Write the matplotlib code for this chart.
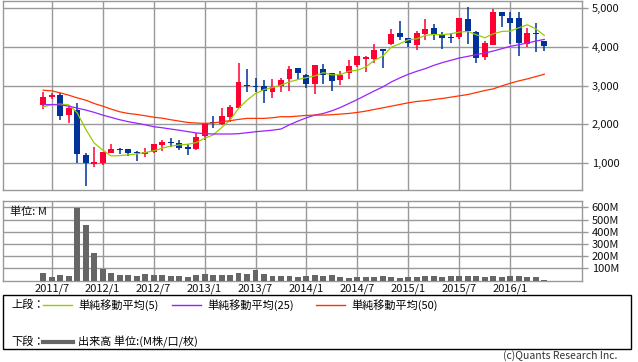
import matplotlib
matplotlib.use("Agg")
from matplotlib import pyplot as plt
from matplotlib.patches import Rectangle
from matplotlib.lines import Line2D

plt.rcParams['font.family'] = ['Noto Sans CJK JP', 'DejaVu Sans']

# monthly candles 2011/6 .. 2016/5 (x = months since 2011/1)
start_month = 5
opens = [2496, 2694, 2761, 2240, 2368, 1213, 982, 1000, 1272, 1368, 1359, 1282,
         1239, 1291, 1470, 1547, 1513, 1419, 1368, 1709, 2060, 2009, 2197, 2427,
         3026, 2991, 2991, 2838, 3000, 3171, 3461, 3282, 3051, 3436, 3316, 3137,
         3325, 3521, 3684, 3675, 3932, 4077, 4359, 4231, 4034, 4333, 4487, 4333,
         4248, 4248, 4718, 4368, 3735, 4043, 4906, 4735, 4735, 4077, 4350, 4137]
highs = [2823, 2796, 2796, 2479, 2540, 1260, 1411, 1299, 1488, 1400, 1368, 1325,
         1402, 1500, 1607, 1650, 1598, 1487, 1769, 2026, 2214, 2410, 2496, 3581,
         3419, 3205, 3154, 3180, 3205, 3504, 3461, 3290, 3538, 3547, 3316, 3368,
         3667, 3752, 3770, 4060, 3932, 4462, 4650, 4231, 4393, 4718, 4573, 4376,
         4359, 4744, 5034, 4393, 4137, 4974, 4906, 4889, 4889, 4487, 4615, 4137]
lows = [2394, 2660, 2112, 2027, 1000, 417, 897, 957, 1257, 1239, 1188, 1068,
        1171, 1270, 1325, 1427, 1350, 1214, 1342, 1598, 1906, 1983, 2068, 2420,
        2838, 2838, 2556, 2684, 2838, 2863, 3162, 2949, 2778, 3051, 2863, 3009,
        3162, 3479, 3350, 3590, 3453, 4034, 4162, 3991, 3906, 4180, 4162, 3949,
        4094, 4205, 4077, 3590, 3667, 4034, 4504, 4077, 3761, 3991, 3863, 3889]
closes = [2694, 2761, 2222, 2412, 1231, 1000, 1033, 1282, 1359, 1350, 1257, 1256,
          1299, 1496, 1547, 1530, 1402, 1376, 1684, 2026, 2026, 2214, 2436, 3085,
          2991, 2975, 2855, 2966, 3137, 3436, 3333, 3043, 3521, 3282, 3120, 3282,
          3496, 3752, 3726, 3923, 3897, 4316, 4248, 4094, 4342, 4462, 4333, 4231,
          4222, 4744, 4402, 3718, 4103, 4906, 4786, 4607, 4094, 4359, 4333, 4009]

ma5 = [2450, 2510, 2520, 2505, 2300, 1880, 1520, 1340, 1187, 1195, 1215, 1240,
       1275, 1320, 1385, 1440, 1470, 1487, 1530, 1641, 1727, 1915, 2111, 2410,
       2624, 2795, 2897, 2949, 3009, 3094, 3154, 3205, 3248, 3333, 3274, 3282,
       3368, 3393, 3479, 3650, 3761, 3991, 4077, 4179, 4205, 4291, 4316, 4308,
       4333, 4376, 4393, 4308, 4231, 4333, 4393, 4402, 4487, 4564, 4462, 4291]
ma25 = [2505, 2510, 2500, 2470, 2420, 2370, 2310, 2240, 2180, 2120, 2070, 2030,
        1990, 1940, 1914, 1880, 1850, 1815, 1780, 1760, 1752, 1752, 1752, 1760,
        1785, 1810, 1830, 1850, 1880, 1990, 2085, 2170, 2240, 2282, 2350, 2436,
        2538, 2641, 2752, 2863, 2966, 3094, 3197, 3291, 3368, 3436, 3521, 3590,
        3650, 3709, 3752, 3795, 3838, 3889, 3949, 4009, 4051, 4094, 4145, 4188]
ma50 = [2880, 2863, 2812, 2752, 2684, 2624, 2538, 2470, 2393, 2325, 2282, 2256,
        2222, 2185, 2160, 2120, 2085, 2050, 2034, 2026, 2034, 2068, 2094, 2128,
        2154, 2154, 2154, 2171, 2197, 2197, 2214, 2231, 2239, 2239, 2248, 2265,
        2282, 2308, 2342, 2385, 2427, 2470, 2513, 2556, 2590, 2610, 2641, 2667,
        2701, 2735, 2769, 2820, 2872, 2915, 2991, 3060, 3120, 3171, 3231, 3291]

# volume in M
volume = [65, 30, 46, 38, 598, 454, 228, 98, 65, 46, 46, 38,
          54, 46, 46, 38, 38, 30, 46, 57, 46, 46, 46, 65,
          57, 90, 57, 38, 38, 33, 28, 35, 46, 34, 45, 26,
          21, 29, 29, 32, 37, 32, 18, 29, 32, 37, 37, 32,
          37, 37, 37, 37, 29, 37, 29, 37, 37, 29, 26, 4]

tick_months = [6, 12, 18, 24, 30, 36, 42, 48, 54, 60]
tick_labels = ["2011/7", "2012/1", "2012/7", "2013/1", "2013/7",
               "2014/1", "2014/7", "2015/1", "2015/7", "2016/1"]
price_ticks = [1000, 2000, 3000, 4000, 5000]
vol_ticks = [100, 200, 300, 400, 500, 600]

W, H = 638, 362
fig = plt.figure(figsize=(W / 100, H / 100), dpi=100)
ax = fig.add_axes([3 / W, 1 - 190 / H, 579 / W, 189.5 / H])
axv = fig.add_axes([3 / W, 1 - 280.5 / H, 579 / W, 79.5 / H])

xs = [start_month + i for i in range(len(opens))]
up_col, dn_col = '#ff0033', '#003399'
grid_col = '#999999'

for x, o, h, l, c in zip(xs, opens, highs, lows, closes):
    col = up_col if c >= o else dn_col
    ax.vlines(x, l, h, color=col, lw=1.1, zorder=3)
    ax.bar(x, max(abs(c - o), 18), bottom=min(o, c), width=0.7, color=col,
           lw=0, zorder=4)

ax.plot(xs, ma5, color='#99cc00', lw=0.9, zorder=5)
ax.plot(xs, ma25, color='#9922ff', lw=0.9, zorder=5)
ax.plot(xs, ma50, color='#ff3300', lw=0.9, zorder=5)

axv.bar(xs, volume, width=0.7, color='#666666', lw=0, zorder=3)

for a in (ax, axv):
    a.set_xlim(0.27, 68.44)
    a.set_xticks(tick_months)
    a.grid(True, color=grid_col, lw=1)
    a.set_axisbelow(True)
    for s in a.spines.values():
        s.set_color(grid_col)
        s.set_linewidth(1)
    a.yaxis.tick_right()
    a.tick_params(axis='y', length=4, width=1, color=grid_col, labelsize=8,
                  pad=3, labelcolor='#111111')
    a.tick_params(axis='x', length=0, labelsize=8, pad=2, labelcolor='#111111')

ax.set_ylim(310, 5190)
ax.set_yticks(price_ticks)
ax.set_yticklabels([f"{v:,}" for v in price_ticks])
ax.set_xticklabels([])

axv.set_ylim(0, 652)
axv.set_yticks(vol_ticks)
axv.set_yticklabels([f"{v}M" for v in vol_ticks])
axv.set_xticklabels(tick_labels)
axv.text(0.012, 0.93, "単位: M", transform=axv.transAxes, fontsize=8,
         va='top', ha='left', color='#111111')

# legend box
def fx(px):
    return px / W

def fy(py):
    return 1 - py / H

fig.add_artist(Rectangle((fx(3.3), fy(349.3)), fx(631) - fx(3.3), fy(295) - fy(349.3),
                         transform=fig.transFigure, fill=False, ec='black', lw=1))
fs = 8
fig.text(fx(11), fy(305), "上段：", fontsize=fs, va='center', ha='left')
legend_items = [(43, '#99cc00', "単純移動平均(5)"),
                (172, '#9922ff', "単純移動平均(25)"),
                (316, '#ff3300', "単純移動平均(50)")]
for x0, col, label in legend_items:
    fig.add_artist(Line2D([fx(x0), fx(x0 + 29)], [fy(305), fy(305)],
                          transform=fig.transFigure, color=col, lw=1))
    fig.text(fx(x0 + 35), fy(305), label, fontsize=fs, va='center', ha='left')

fig.text(fx(11), fy(342), "下段：", fontsize=fs, va='center', ha='left')
fig.add_artist(Line2D([fx(43), fx(73)], [fy(342), fy(342)],
                      transform=fig.transFigure, color='#666666', lw=3))
fig.text(fx(78), fy(342), "出来高 単位:(M株/口/枚)", fontsize=fs, va='center', ha='left')

fig.text(fx(617), fy(356), "(c)Quants Research Inc.", fontsize=7.5, va='center',
         ha='right', color='#333333')

fig.savefig("out.png", dpi=100)
